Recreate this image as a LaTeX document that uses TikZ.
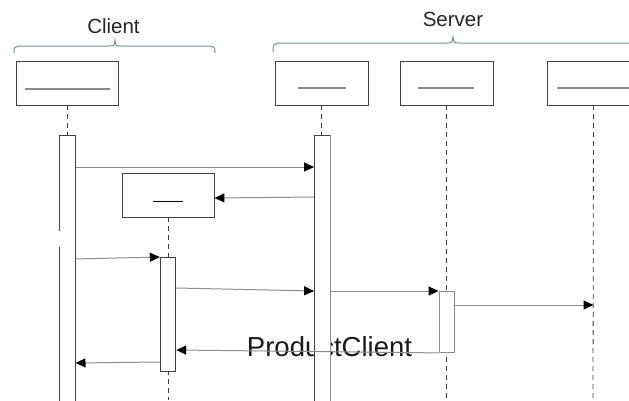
\documentclass[tikz,border=0pt]{standalone}
\usepackage{fontspec}
\setmainfont{Liberation Sans}
\usetikzlibrary{arrows.meta}
\definecolor{boxline}{HTML}{404040}
\definecolor{grayline}{HTML}{8C8C8C}
\definecolor{bracec}{HTML}{6F9797}
\tikzset{
  objbox/.style={draw=boxline, line width=0.9pt, fill=white, inner sep=0pt, minimum height=44pt},
  nameline/.style={draw=grayline, line width=1.4pt},
  life/.style={draw=boxline, line width=0.8pt, dash pattern=on 5pt off 4pt},
  actbar/.style={draw=boxline, line width=0.9pt, fill=white, inner sep=0pt, minimum width=15.5pt, anchor=north},
  msg/.style={draw=grayline, line width=1pt, -{Triangle[length=10pt,width=9pt,fill=black,color=black]}},
  brace/.style={draw=bracec, line width=1pt},
  hdr/.style={font=\fontsize{20.5}{24}\selectfont, text=black!85, anchor=base, inner sep=0pt}
}
\begin{document}
\begin{tikzpicture}[x=1pt,y=-1pt]
\useasboundingbox (0,0) rectangle (629,400);
\clip (0,0) rectangle (629,400);

% group labels and braces
\node[hdr] (clientlbl) at (113.5,33) {Client};
\node[hdr] (serverlbl) at (453,26) {Server};
\draw[brace] (14,53) .. controls (14,47) .. (20,46) -- (109,46) .. controls (114,46) .. (115,40) .. controls (116,46) .. (121,46) -- (209,46) .. controls (215,47) .. (215,53);
\draw[brace] (273,52) .. controls (273,44) .. (280,43) -- (447,43) .. controls (452,43) .. (453,37) .. controls (454,43) .. (459,43) -- (640,43);

% object boxes
\node[objbox, minimum width=102pt] (o1) at (67,83) {};
\node[objbox, minimum width=93pt] (o2) at (321.5,83) {};
\node[objbox, minimum width=93pt] (o3) at (446.5,83) {};
\node[objbox, minimum width=93pt] (o4) at (593.5,83) {};
\node[objbox, minimum width=92pt] (om) at (168,195) {};

\draw[nameline] ([xshift=9pt,yshift=-6pt]o1.west) -- ([xshift=-8pt,yshift=-6pt]o1.east);
\draw[nameline] ([xshift=23pt,yshift=-5pt]o2.west) -- ([xshift=-22pt,yshift=-5pt]o2.east);
\draw[nameline] ([xshift=18pt,yshift=-5pt]o3.west) -- ([xshift=-19pt,yshift=-5pt]o3.east);
\draw[nameline] ([xshift=10pt,yshift=-5pt]o4.west) -- ([xshift=-10pt,yshift=-5pt]o4.east);
\draw[black, line width=0.9pt] ([xshift=-15pt,yshift=-6pt]om.center) -- ([xshift=15pt,yshift=-6pt]om.center);

% lifelines
\draw[life] (o1.south) -- (67,135);
\draw[life] (o2.south) -- (321.5,135);
\draw[life] (o3.south) -- (446.5,400);
\draw[life] (o4.south |- 0,105) -- (593,400);
\draw[life] (om.south) -- (168,400);

% big label (behind server bar)
\node[font=\fontsize{27.5}{32}\selectfont, anchor=base, inner sep=0pt, text=black!90] (pc) at (329.5,356.5) {ProductClient};

% activation bars
\node[actbar, minimum height=280pt] (b1) at (67.3,135) {};
\draw[white, line width=1.5pt] (b1.north west |- 0,231) -- (b1.north west |- 0,247);
\node[actbar, minimum height=280pt] (b2) at (322.3,135) {};
\draw[grayline, line width=1pt] (b2.north east) -- (b2.south east);
\node[actbar, minimum height=114pt] (bm) at (168,257) {};
\node[actbar, minimum height=61pt, draw=grayline] (b3) at (446.7,291) {};

% messages
\draw[msg] ([yshift=-32pt]b1.north east) -- ([yshift=-32pt]b2.north west);
\draw[msg] ([yshift=-62pt]b2.north west) -- ([yshift=-3pt]om.east);
\draw[msg] ([yshift=-124pt]b1.north east) -- (bm.north west);
\draw[msg] ([yshift=-31pt]bm.north east) -- ([yshift=-156pt]b2.north west);
\draw[msg] ([yshift=-156pt]b2.north east) -- (b3.north west);
\draw[msg] ([yshift=-14pt]b3.north east) -- (o4.south |- 0,305);
\draw[msg] (b3.south west) -- ([yshift=-93pt]bm.north east);
\draw[msg] ([yshift=-105pt]bm.north west) -- ([yshift=-228pt]b1.north east);
\end{tikzpicture}
\end{document}
